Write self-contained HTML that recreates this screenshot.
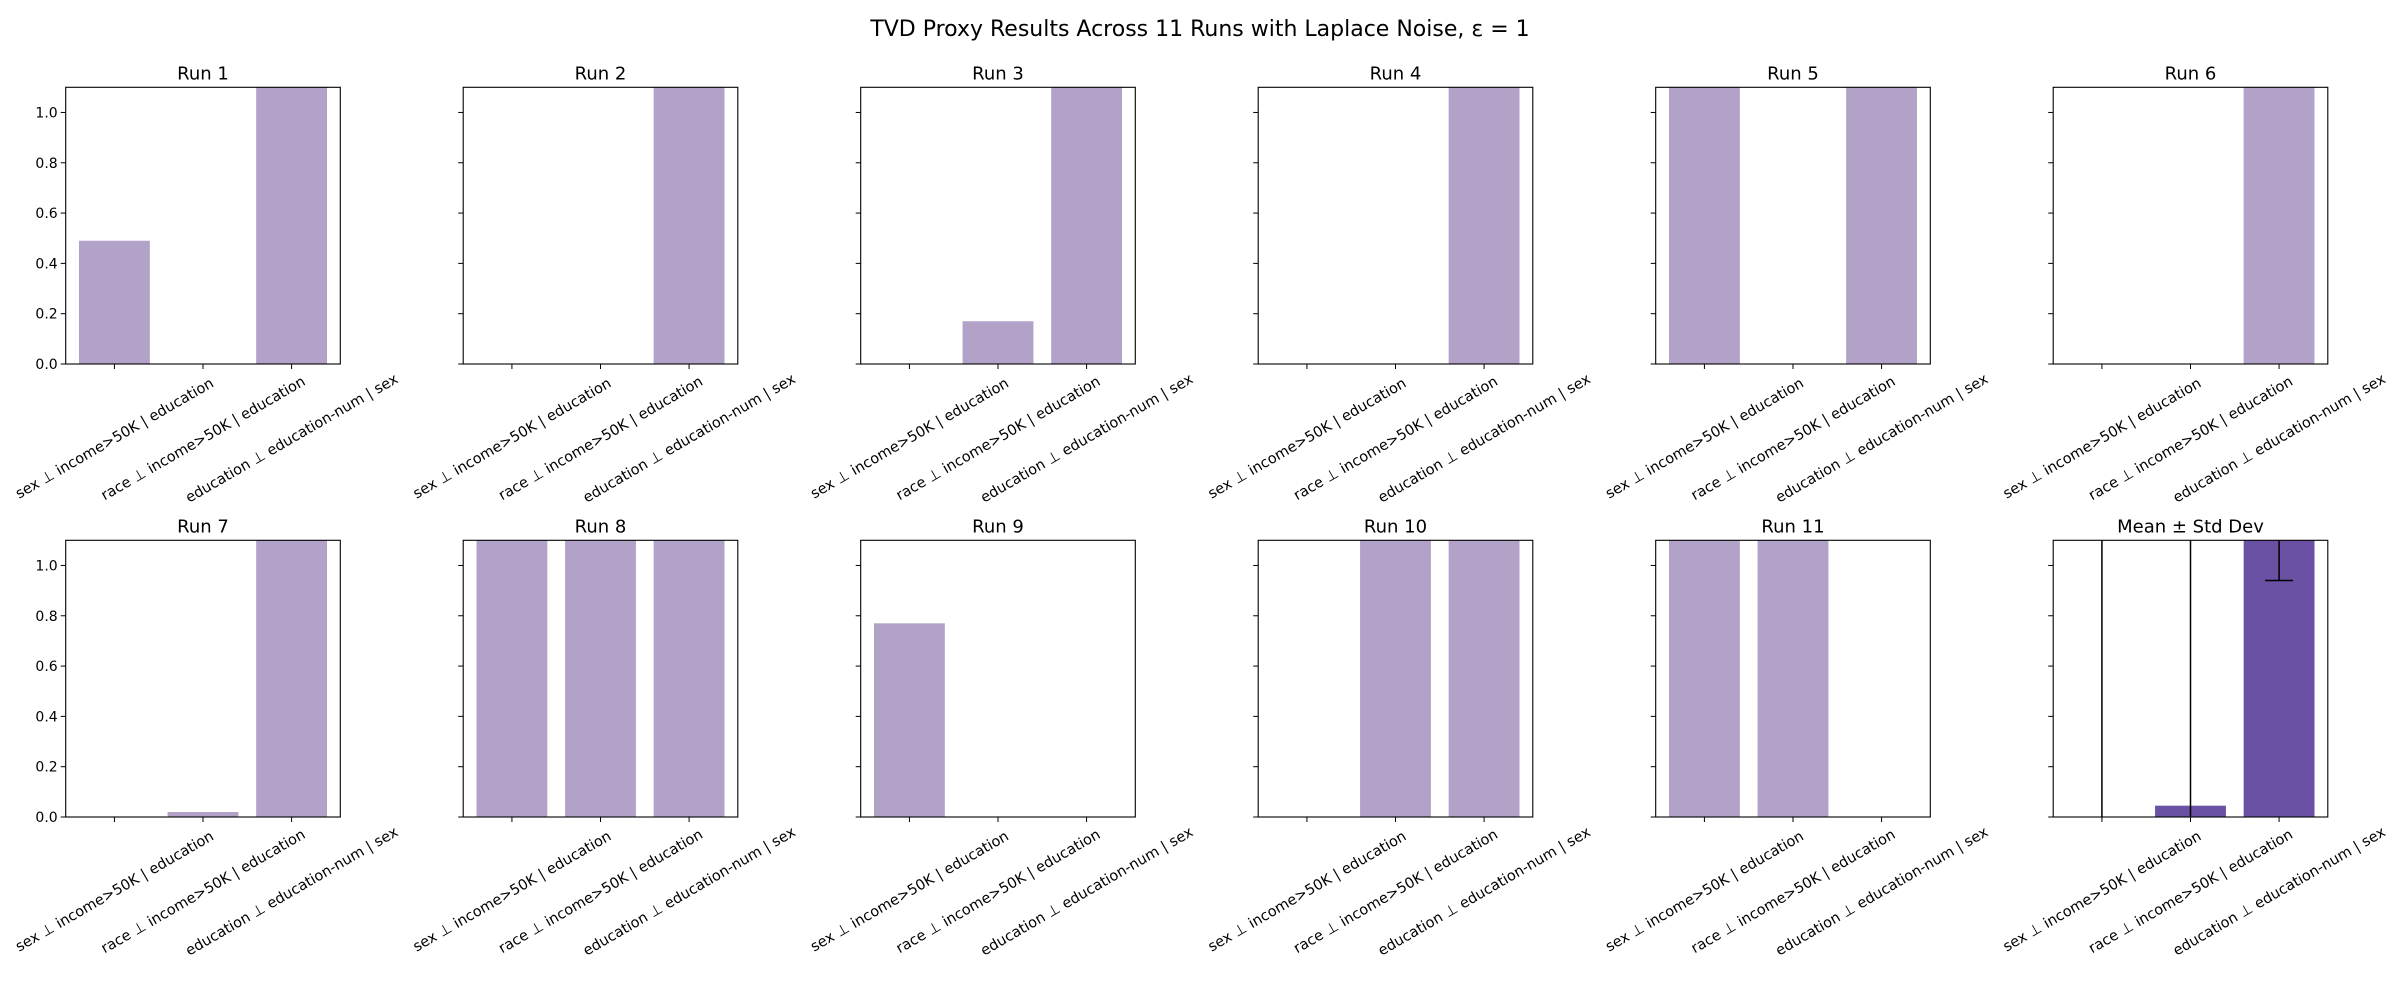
<!DOCTYPE html>
<html><head><meta charset="utf-8"><style>
html,body{margin:0;padding:0;background:#fff;width:2400px;height:1000px;overflow:hidden}
svg{display:block}
svg text{font-family:"DejaVu Sans","Liberation Sans",sans-serif;fill:#000}
</style></head><body>
<svg id="chart" width="2400" height="1000" viewBox="0 0 2400 1000" xmlns="http://www.w3.org/2000/svg">
<text x="1200" y="36" font-size="22" text-anchor="middle">TVD Proxy Results Across 11 Runs with Laplace Noise, ε = 1</text>
</svg>
<script>
const categories = ["sex ⊥ income>50K | education", "race ⊥ income>50K | education", "education ⊥ education-num | sex"];
const runNames = ["Run 1","Run 2","Run 3","Run 4","Run 5","Run 6","Run 7","Run 8","Run 9","Run 10","Run 11"];
const sexValues = [0.49, 0, 0, 0, 1.5, 0, 0, 1.5, 0.77, 0, 1.5];
const raceValues = [0, 0, 0.17, 0, 0, 0, 0.02, 1.5, 0, 1.5, 1.5];
const eduValues = [1.5, 1.5, 1.5, 1.5, 1.5, 1.5, 1.5, 1.5, 0, 1.5, 0];
const meanValues = [0, 0.045, 1.2];
const stdValues = [1.6, 1.6, 0.26];
const yTicks = [0.0, 0.2, 0.4, 0.6, 0.8, 1.0];
const yTickLabels = ["0.0","0.2","0.4","0.6","0.8","1.0"];

const NS = "http://www.w3.org/2000/svg";
const svg = document.getElementById('chart');
const AX_W = 274.6, AX_H = 276.7, COL_STEP = 397.5, LEFT0 = 65.7, TOPS = [87.3, 540.3];
const Y_MAX = 1.1, X_MIN = -0.55, X_MAX = 2.55;
function mk(tag, attrs, parent){const e=document.createElementNS(NS,tag);for(const k in attrs)e.setAttribute(k,attrs[k]);(parent||svg).appendChild(e);return e;}

function drawPanel(idx, title, values, color, errs){
  const col = idx % 6, row = Math.floor(idx / 6);
  const x0 = LEFT0 + col * COL_STEP, y0 = TOPS[row];
  const xs = v => x0 + (v - X_MIN) / (X_MAX - X_MIN) * AX_W;
  const ys = v => y0 + AX_H - v / Y_MAX * AX_H;
  const g = mk('g', {});
  
  
  const cid = 'clip' + idx;
  const cp = mk('clipPath', {id: cid}, g);
  mk('rect', {x: x0, y: y0, width: AX_W, height: AX_H}, cp);
  const bars = mk('g', {'clip-path': 'url(#' + cid + ')'}, g);
  values.forEach((v, i) => {
    const top = ys(Math.max(v, 0));
    const r = mk('rect', {x: xs(i - 0.4), y: top, width: xs(i + 0.4) - xs(i - 0.4), height: ys(0) - top, fill: color}, bars);
    
    
  });
  if (errs) {
    values.forEach((v, i) => {
      const lo = ys(v - errs[i]), hi = ys(v + errs[i]);
      const l = mk('line', {x1: xs(i), x2: xs(i), y1: lo, y2: hi, stroke: '#000', 'stroke-width': 1.5}, bars);
      
      
      [lo, hi].forEach(yy => mk('line', {x1: xs(i) - 14, x2: xs(i) + 14, y1: yy, y2: yy, stroke: '#000', 'stroke-width': 1.5}, bars));
    });
  }
  const frame = mk('rect', {x: x0, y: y0, width: AX_W, height: AX_H, fill: 'none', stroke: '#000', 'stroke-width': 1.1}, g);
  
  
  yTicks.forEach((t, k) => {
    mk('line', {x1: x0 - 5, x2: x0, y1: ys(t), y2: ys(t), stroke: '#000', 'stroke-width': 1}, g);
    if (col === 0) {
      const tx = mk('text', {x: x0 - 8, y: ys(t) + 5, 'font-size': 14, 'text-anchor': 'end'}, g);
      tx.textContent = yTickLabels[k];
      
      
    }
  });
  categories.forEach((c, i) => {
    mk('line', {x1: xs(i), x2: xs(i), y1: y0 + AX_H, y2: y0 + AX_H + 5, stroke: '#000', 'stroke-width': 1}, g);
    const cx = xs(i), cy = y0 + AX_H + 74;
    const tx = mk('text', {x: cx, y: cy + 5, 'font-size': 14.5, 'text-anchor': 'middle', transform: 'rotate(-30 ' + cx + ' ' + cy + ')'}, g);
    tx.textContent = c;
    
    
  });
  const tt = mk('text', {x: x0 + AX_W / 2, y: y0 - 8, 'font-size': 18, 'text-anchor': 'middle'}, g);
  tt.textContent = title;
  
  
}
runNames.forEach((n, r) => drawPanel(r, n, [sexValues[r], raceValues[r], eduValues[r]], '#b3a2c8', null));
drawPanel(11, 'Mean ± Std Dev', meanValues, '#6a51a3', stdValues);
</script>
</body></html>
